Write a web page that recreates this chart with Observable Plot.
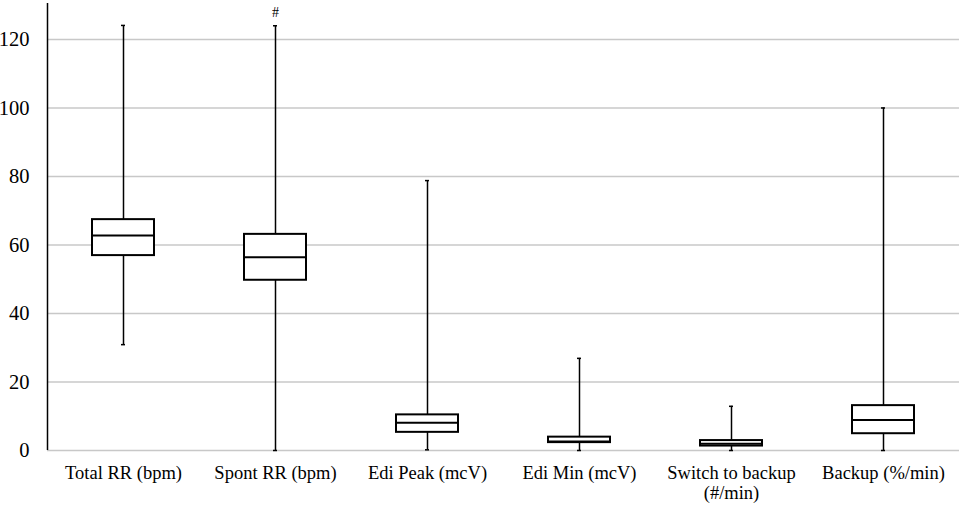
<!DOCTYPE html>
<html>
<head>
<meta charset="utf-8">
<script src="https://cdn.jsdelivr.net/npm/d3@7"></script>
<script src="https://cdn.jsdelivr.net/npm/@observablehq/plot@0.6"></script>
<style>
  html, body { margin: 0; padding: 0; background: #fff; }
  g[aria-label="y-axis tick label"], g[aria-label="y-axis tick label"] text { font-size: 20.5px !important; }
</style>
</head>
<body>
<div id="chart"></div>
<script>
const categories = ["Total RR (bpm)", "Spont RR (bpm)", "Edi Peak (mcV)", "Edi Min (mcV)", "Switch to backup\n(#/min)", "Backup (%/min)"];
const minValues    = [30.9, 0, 0.2, 0, 0, 0];
const q1Values     = [56.9, 49.7, 5.3, 2.3, 1.3, 4.9];
const medianValues = [62.8, 56.4, 8.1, 2.6, 2.0, 8.9];
const q3Values     = [67.4, 63.1, 10.4, 3.9, 2.9, 13.1];
const maxValues    = [124.1, 124, 78.8, 26.9, 12.9, 100];
const yTicks = [0, 20, 40, 60, 80, 100, 120];
const annotations = [{cat: "Spont RR (bpm)", value: 124, label: "#"}];

const data = categories.map((c, i) => ({
  cat: c, min: minValues[i], q1: q1Values[i], median: medianValues[i], q3: q3Values[i], max: maxValues[i]
}));

const chart = Plot.plot({
  width: 959,
  height: 505,
  marginLeft: 47,
  marginRight: 0,
  marginTop: 3,
  marginBottom: 55,
  style: {fontFamily: "'Liberation Serif', 'Times New Roman', serif", fontSize: "18px", background: "#fff", color: "#000"},
  x: {domain: categories, padding: 0, label: null},
  y: {domain: [0, 130.5], label: null},
  marks: [
    Plot.ruleY(yTicks, {stroke: "#c8c8c8", strokeWidth: 1.5}),
    Plot.axisY({ticks: yTicks, tickSize: 0, tickPadding: 18, fontSize: 20.5, label: null}),
    Plot.ruleX([0], {x: () => categories[0], dx: -76, y1: 0, y2: 130.5, stroke: "#000", strokeWidth: 1.5}),
    Plot.axisX({tickSize: 0, tickPadding: 14, fontSize: 18.5, lineHeight: 1.1, label: null}),
    Plot.ruleX(data, {x: "cat", y1: "min", y2: "max", stroke: "#000", strokeWidth: 1.5}),
    Plot.tickY(data, {x: "cat", y: "max", stroke: "#000", strokeWidth: 1.5, insetLeft: 74, insetRight: 74}),
    Plot.tickY(data, {x: "cat", y: "min", stroke: "#000", strokeWidth: 1.5, insetLeft: 74, insetRight: 74}),
    Plot.barY(data, {x: "cat", y1: "q1", y2: "q3", fill: "#fff", stroke: "#000", strokeWidth: 2, insetLeft: 45, insetRight: 45}),
    Plot.tickY(data, {x: "cat", y: "median", stroke: "#000", strokeWidth: 2, insetLeft: 45, insetRight: 45}),
    Plot.text(annotations, {x: "cat", y: "value", text: "label", dy: -13, fontSize: 14, fill: "#000"})
  ]
});
document.getElementById("chart").appendChild(chart);
</script>
</body>
</html>
